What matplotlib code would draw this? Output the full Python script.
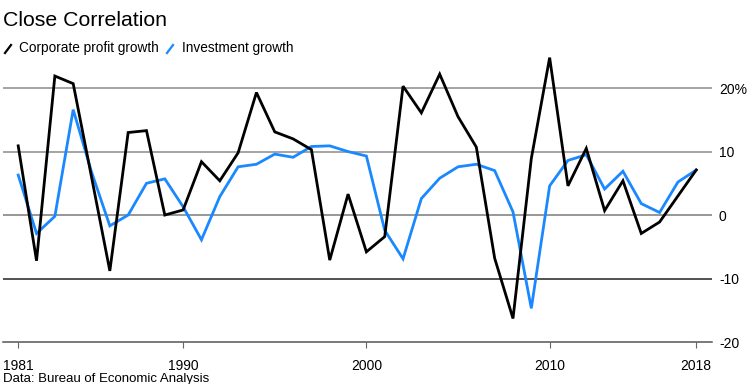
import matplotlib.pyplot as plt
from matplotlib.lines import Line2D

plt.rcParams['font.family'] = ['Liberation Sans', 'DejaVu Sans']

years = list(range(1981, 2019))
profit = [10.9, -7.2, 21.9, 20.7, 6.0, -8.8, 13.0, 13.3, 0.0, 0.8,
          8.4, 5.4, 9.8, 19.3, 13.1, 12.0, 10.3, -7.1, 3.3, -5.8,
          -3.4, 20.3, 16.1, 22.2, 15.5, 10.7, -6.8, -16.3, 8.9, 24.8,
          4.6, 10.5, 0.7, 5.4, -2.9, -1.1, 3.0, 7.1]
investment = [6.3, -2.9, -0.2, 16.6, 6.8, -1.7, 0.0, 5.0, 5.7, 1.3,
              -3.9, 2.9, 7.6, 8.0, 9.6, 9.1, 10.8, 10.9, 10.0, 9.3,
              -2.4, -6.9, 2.6, 5.8, 7.6, 8.0, 7.0, 0.5, -14.7, 4.6,
              8.6, 9.5, 4.1, 6.9, 1.8, 0.4, 5.2, 7.1]
xticks = [1981, 1990, 2000, 2010, 2018]
yticks = [20, 10, 0, -10, -20]
ylabels = ["20%", "10", "0", "-10", "-20"]

BLUE = "#1a88ff"

fig = plt.figure(figsize=(7.49, 3.84), dpi=100)
ax = fig.add_axes([3 / 749, 1 - 342 / 384, 709 / 749, 292 / 384])

# gridlines (the -10 one is darker in the original)
for v, c in [(20, "#8c8c8c"), (10, "#8c8c8c"), (0, "#7a7a7a"), (-10, "#222222")]:
    ax.axhline(v, color=c, lw=1.1, zorder=1)

ax.plot(years, investment, color=BLUE, lw=2.0, zorder=3, solid_joinstyle="miter")
ax.plot(years, profit, color="black", lw=2.0, zorder=4, solid_joinstyle="miter")

ax.set_xlim(1980.17, 2018.86)
ax.set_ylim(-20, 26)
ax.set_xticks(xticks)
ax.set_yticks(yticks)
ax.set_yticklabels(ylabels)
ax.yaxis.tick_right()
ax.tick_params(axis="y", length=0, pad=5, labelsize=10)
ax.tick_params(axis="x", length=4, width=0.8, color="#666666", pad=8, labelsize=10)
for s in ["top", "left", "right"]:
    ax.spines[s].set_visible(False)
ax.spines["bottom"].set_color("#555555")
ax.spines["bottom"].set_linewidth(1.1)
for lab in ax.get_yticklabels():
    lab.set_horizontalalignment("left")

fig.text(3 / 749, 1 - 20 / 384, "Close Correlation", fontsize=15.3, va="center", ha="left")

# legend with slanted line markers
fig.add_artist(Line2D([5 / 749, 11 / 749], [1 - 53 / 384, 1 - 45 / 384], color="black", lw=1.6))
fig.text(19 / 749, 1 - 48 / 384, "Corporate profit growth", fontsize=9.8, va="center", ha="left")
fig.add_artist(Line2D([167 / 749, 173 / 749], [1 - 53 / 384, 1 - 45 / 384], color=BLUE, lw=1.6))
fig.text(182 / 749, 1 - 48 / 384, "Investment growth", fontsize=9.8, va="center", ha="left")

fig.text(3 / 749, 1 - 373 / 384, "Data: Bureau of Economic Analysis", fontsize=9.5, va="top", ha="left")

fig.savefig("out.png", dpi=100)
